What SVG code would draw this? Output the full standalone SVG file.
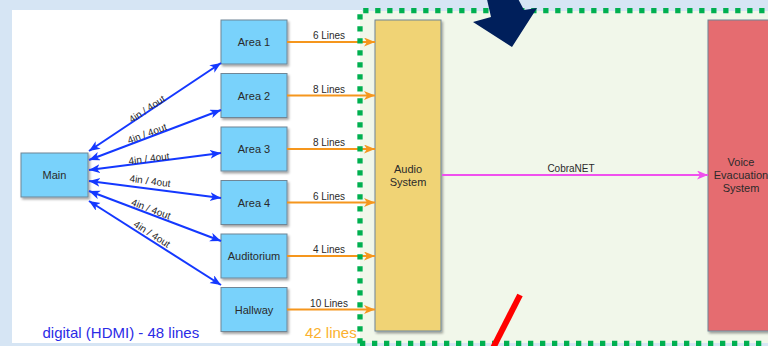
<svg xmlns="http://www.w3.org/2000/svg" width="768" height="346" viewBox="0 0 768 346">
<defs>
<style>
.box{stroke:#6f8696;stroke-width:1;filter:url(#sh)}
.area{fill:#79d2fb}
.lbl{font-family:"Liberation Sans",Arial,sans-serif;font-size:11px;fill:#2a2a2a;text-anchor:middle}
.el{font-family:"Liberation Sans",Arial,sans-serif;font-size:10px;fill:#2a2a2a;text-anchor:middle}
.blue{stroke:#1438ff;stroke-width:2;fill:none;marker-start:url(#mb);marker-end:url(#mb)}
.orange{stroke:#f5961d;stroke-width:2;fill:none;marker-end:url(#mo)}
</style>
<filter id="sh" x="-20%" y="-20%" width="150%" height="150%">
<feDropShadow dx="1.5" dy="2" stdDeviation="1" flood-color="#000" flood-opacity="0.35"/>
</filter>
<marker id="mb" markerUnits="userSpaceOnUse" markerWidth="12" markerHeight="10" refX="11" refY="4.5" orient="auto-start-reverse">
<path d="M0,0 L11,4.5 L0,9 L3,4.5 z" fill="#1438ff"/>
</marker>
<marker id="mo" markerUnits="userSpaceOnUse" markerWidth="12" markerHeight="10" refX="11" refY="4.5" orient="auto">
<path d="M0,0 L11,4.5 L0,9 L3,4.5 z" fill="#f5961d"/>
</marker>
<marker id="mp" markerUnits="userSpaceOnUse" markerWidth="12" markerHeight="10" refX="11" refY="4.5" orient="auto">
<path d="M0,0 L11,4.5 L0,9 L3,4.5 z" fill="#f050ee"/>
</marker>
</defs>
<rect x="0" y="0" width="768" height="346" fill="#d6e5f4"/>
<rect x="12" y="10" width="350" height="333" fill="#ffffff"/>
<rect x="360" y="11" width="410" height="332" fill="#f1f7ea"/>

<g id="main"><rect class="box area" x="21" y="153" width="67" height="44"/><text class="lbl" x="54.5" y="179">Main</text></g>
<g id="area1"><rect class="box area" x="221" y="20" width="66" height="44"/><text class="lbl" x="254" y="46">Area 1</text></g>
<g id="area2"><rect class="box area" x="221" y="73.5" width="66" height="44"/><text class="lbl" x="254" y="99.5">Area 2</text></g>
<g id="area3"><rect class="box area" x="221" y="127" width="66" height="44"/><text class="lbl" x="254" y="153">Area 3</text></g>
<g id="area4"><rect class="box area" x="221" y="180.5" width="66" height="44"/><text class="lbl" x="254" y="206.5">Area 4</text></g>
<g id="auditorium"><rect class="box area" x="221" y="234" width="66" height="44"/><text class="lbl" x="254" y="260">Auditorium</text></g>
<g id="hallway"><rect class="box area" x="221" y="287.5" width="66" height="44"/><text class="lbl" x="254" y="313.5">Hallway</text></g>
<g id="audio"><rect class="box" fill="#f0d374" stroke="#a09a70" x="375" y="20" width="66" height="311"/><text class="lbl" x="408" y="173">Audio</text><text class="lbl" x="408" y="186">System</text></g>
<g id="voice"><rect class="box" fill="#e56c70" stroke="#8a6a6a" x="708" y="20" width="66" height="311"/><text class="lbl" x="741" y="166">Voice</text><text class="lbl" x="741" y="179">Evacuation</text><text class="lbl" x="741" y="192">System</text></g>

<g id="connectors">
<line class="blue" x1="89" y1="151" x2="221" y2="63"/>
<line class="blue" x1="89" y1="160" x2="221" y2="110"/>
<line class="blue" x1="89" y1="170" x2="221" y2="153"/>
<line class="blue" x1="89" y1="181" x2="221" y2="198"/>
<line class="blue" x1="89" y1="191" x2="221" y2="241"/>
<line class="blue" x1="89" y1="201" x2="221" y2="285"/>
<text class="el" transform="translate(147,109) rotate(-33.7)" y="3.5">4in / 4out</text>
<text class="el" transform="translate(147,133.5) rotate(-20.7)" y="3.5">4in / 4out</text>
<text class="el" transform="translate(149,158.5) rotate(-7.3)" y="3.5">4in / 4out</text>
<text class="el" transform="translate(150,181) rotate(7.3)" y="3.5">4in / 4out</text>
<text class="el" transform="translate(151,209) rotate(20.7)" y="3.5">4in / 4out</text>
<text class="el" transform="translate(152,234) rotate(32.5)" y="3.5">4in / 4out</text>
<line class="orange" x1="287" y1="42" x2="375" y2="42"/>
<line class="orange" x1="287" y1="95.5" x2="375" y2="95.5"/>
<line class="orange" x1="287" y1="149" x2="375" y2="149"/>
<line class="orange" x1="287" y1="202.5" x2="375" y2="202.5"/>
<line class="orange" x1="287" y1="256" x2="375" y2="256"/>
<line class="orange" x1="287" y1="309.5" x2="375" y2="309.5"/>
<text class="el" x="329" y="39">6 Lines</text>
<text class="el" x="329" y="92.5">8 Lines</text>
<text class="el" x="329" y="146">8 Lines</text>
<text class="el" x="329" y="199.5">6 Lines</text>
<text class="el" x="329" y="253">4 Lines</text>
<text class="el" x="329" y="306.5">10 Lines</text>
<line x1="442" y1="175" x2="708" y2="175" stroke="#f050ee" stroke-width="2" marker-end="url(#mp)"/>
<text class="el" x="571" y="172">CobraNET</text>
</g>

<path d="M360,343.5 L360,10.7 L770,10.7 M360,343.5 L770,343.5" fill="none" stroke="#00b050" stroke-width="5.3" stroke-dasharray="5.3 6.7"/>
<polygon points="486,-5 516,-5 524,10 537,8 512,47 473,22 491,17" fill="#001f5b"/>
<line x1="520" y1="295" x2="492" y2="350" stroke="#ff0000" stroke-width="6"/>
<text x="42.5" y="338" font-family="'Liberation Sans',Arial,sans-serif" font-size="15" fill="#2b2be6">digital (HDMI) - 48 lines</text>
<text x="305" y="338" font-family="'Liberation Sans',Arial,sans-serif" font-size="15" fill="#fbb12e">42 lines</text>
</svg>
